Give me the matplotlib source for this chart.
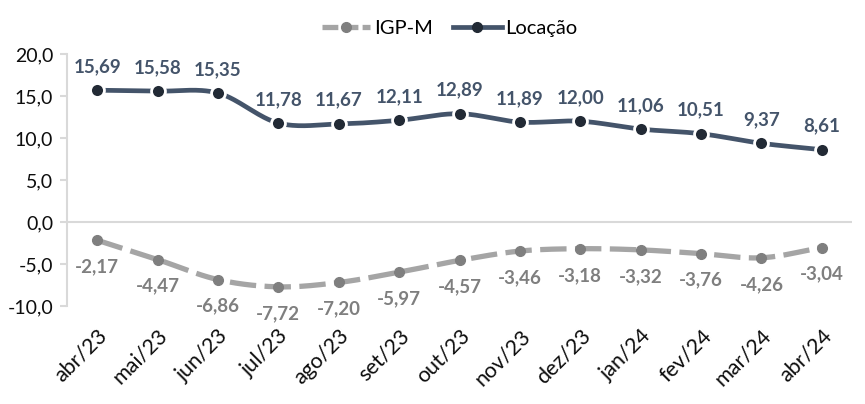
import matplotlib

matplotlib.use("Agg")

import matplotlib.pyplot as plt
import numpy as np
from matplotlib.lines import Line2D

plt.rcParams["font.family"] = ["Lato", "DejaVu Sans"]

MESES = ["abr/23", "mai/23", "jun/23", "jul/23", "ago/23", "set/23", "out/23",
         "nov/23", "dez/23", "jan/24", "fev/24", "mar/24", "abr/24"]
IGPM = [-2.17, -4.47, -6.86, -7.72, -7.20, -5.97, -4.57, -3.46, -3.18, -3.32, -3.76, -4.26, -3.04]
LOCACAO = [15.69, 15.58, 15.35, 11.78, 11.67, 12.11, 12.89, 11.89, 12.00, 11.06, 10.51, 9.37, 8.61]
Y_TICKS = [-10, -5, 0, 5, 10, 15, 20]

COR_IGPM_LINHA = "#A5A5A5"
COR_IGPM_PONTO = "#7F7F7F"
COR_LOC_LINHA = "#44546A"
COR_LOC_PONTO = "#222A35"


def _suavizar(x, y, passos=30):
    # curva tipo Catmull-Rom, parecida com a "linha suavizada" do Excel
    x = np.asarray(x, dtype=float)
    y = np.asarray(y, dtype=float)
    px = np.concatenate([[2 * x[0] - x[1]], x, [2 * x[-1] - x[-2]]])
    py = np.concatenate([[2 * y[0] - y[1]], y, [2 * y[-1] - y[-2]]])
    xs, ys = [], []
    t = np.linspace(0, 1, passos, endpoint=False)
    for i in range(1, len(px) - 2):
        for p, out in ((px, xs), (py, ys)):
            p0, p1, p2, p3 = p[i - 1], p[i], p[i + 1], p[i + 2]
            out.extend(0.5 * ((2 * p1) + (-p0 + p2) * t
                              + (2 * p0 - 5 * p1 + 4 * p2 - p3) * t ** 2
                              + (-p0 + 3 * p1 - 3 * p2 + p3) * t ** 3))
    xs.append(x[-1])
    ys.append(y[-1])
    return np.array(xs), np.array(ys)


def _fmt(v):
    return f"{v:.2f}".replace(".", ",")


fig = plt.figure(figsize=(8.65, 4.04), dpi=100)
ax = fig.add_axes([67 / 865, 98 / 404, (852 - 67) / 865, (306 - 54) / 404])

x = np.arange(len(MESES))

xs, ys = _suavizar(x, IGPM)
ax.plot(xs, ys, color=COR_IGPM_LINHA, lw=3.8, dashes=(5, 1.6), solid_capstyle="butt", zorder=3)
ax.plot(x, IGPM, "o", color=COR_IGPM_PONTO, ms=7, mec=COR_IGPM_PONTO, zorder=4)

xs, ys = _suavizar(x, LOCACAO)
ax.plot(xs, ys, color=COR_LOC_LINHA, lw=3.4, zorder=3)
ax.plot(x, LOCACAO, "o", color=COR_LOC_PONTO, ms=10, mec="white", mew=2, zorder=4)

for xi, v in zip(x, LOCACAO):
    ax.annotate(_fmt(v), (xi, v), xytext=(0, 11), textcoords="offset points",
                ha="center", va="bottom", fontsize=13.5, fontweight="bold", color=COR_LOC_LINHA)
for xi, v in zip(x, IGPM):
    ax.annotate(_fmt(v), (xi, v), xytext=(0, -13), textcoords="offset points",
                ha="center", va="top", fontsize=13.5, fontweight="bold", color=COR_IGPM_PONTO)

ax.axhline(0, color="#D9D9D9", lw=1.5, zorder=1)
ax.set_xlim(-0.5, len(MESES) - 0.5)
ax.set_ylim(-10, 20)
ax.set_yticks(Y_TICKS)
ax.set_yticklabels([f"{v:.1f}".replace(".", ",") for v in Y_TICKS], fontsize=14, color="#0D0D0D")
ax.set_xticks(x)
ax.set_xticklabels(MESES, rotation=45, ha="right", rotation_mode="anchor", fontsize=15.5, color="#0D0D0D")
ax.tick_params(axis="x", length=0, pad=14)
ax.tick_params(axis="y", length=5, width=1.5, color="#D9D9D9", pad=5)

for lado in ("top", "right", "bottom"):
    ax.spines[lado].set_visible(False)
ax.spines["left"].set_color("#D9D9D9")
ax.spines["left"].set_linewidth(1.5)

handles = [
    Line2D([], [], color=COR_IGPM_LINHA, lw=3.8, dashes=(3, 0.8), marker="o", ms=7,
           mfc=COR_IGPM_PONTO, mec=COR_IGPM_PONTO),
    Line2D([], [], color=COR_LOC_LINHA, lw=3.4, marker="o", ms=7,
           mfc=COR_LOC_PONTO, mec=COR_LOC_PONTO),
]
fig.legend(handles, ["IGP-M", "Locação"], loc="center", bbox_to_anchor=(0.52, 0.93), ncol=2,
           frameon=False, fontsize=14.5, handlelength=2.4, handletextpad=0.2, columnspacing=1.0)

fig.savefig("out.png", dpi=100)
plt.close(fig)
